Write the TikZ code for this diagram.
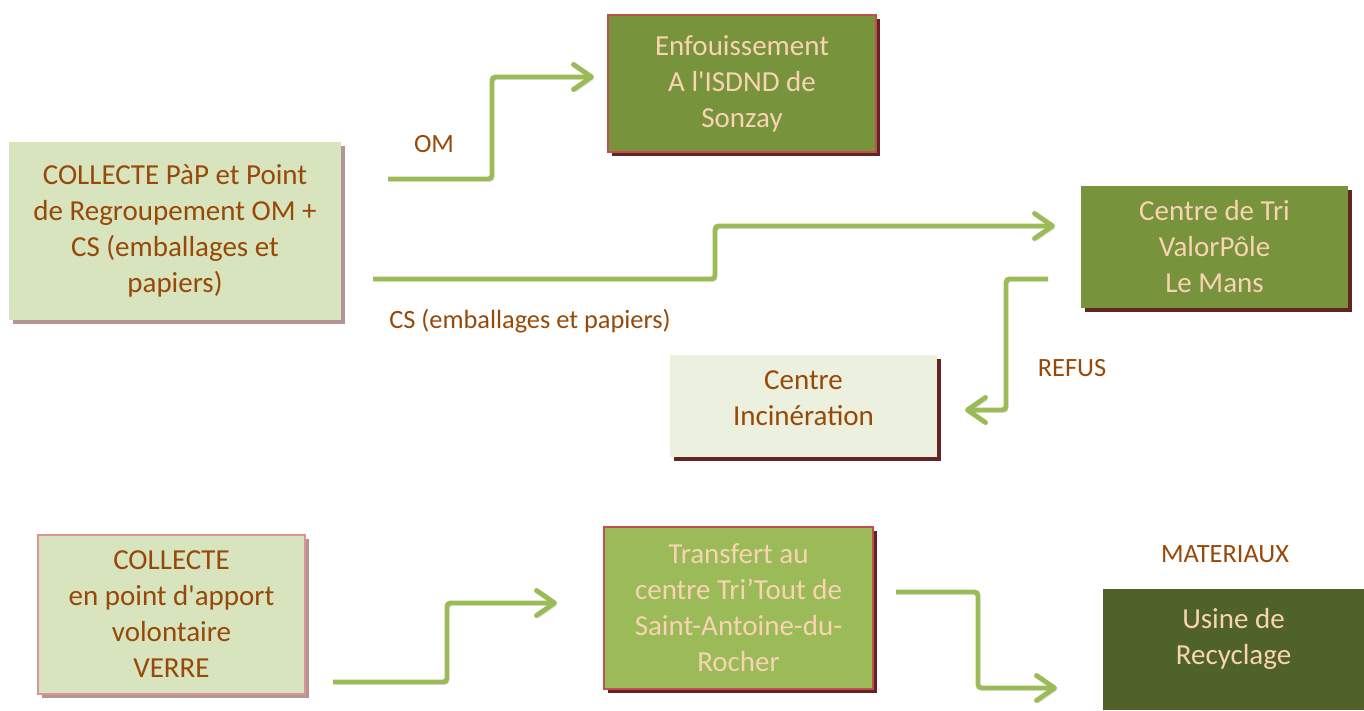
\documentclass[tikz,border=0pt]{standalone}
\usepackage{fontspec}
\setmainfont{Carlito}
\usetikzlibrary{arrows.meta,shadows}

\definecolor{txtbrown}{HTML}{984807}
\definecolor{txtpeach}{HTML}{FAD3B2}
\definecolor{palegreen}{HTML}{D7E4BD}
\definecolor{palergreen}{HTML}{EBF1DE}
\definecolor{midgreen}{HTML}{77933C}
\definecolor{lightgreen}{HTML}{9BBB59}
\definecolor{deepgreen}{HTML}{4F6228}
\definecolor{redline}{HTML}{C0504D}
\definecolor{pinkline}{HTML}{D99694}
\definecolor{darkred}{HTML}{632523}
\definecolor{mauve}{HTML}{B39595}

\tikzset{
  box/.style={rectangle, align=center, inner sep=0pt,
    font=\fontsize{16.5}{20.5}\selectfont},
  darkshade/.style={drop shadow={shadow xshift=0.08cm, shadow yshift=-0.08cm,
    fill=darkred, opacity=1}},
  paleshade/.style={drop shadow={shadow xshift=0.08cm, shadow yshift=-0.08cm,
    fill=mauve, opacity=1}},
  flow/.style={draw=lightgreen, line width=2.8pt, rounded corners=2pt,
    -{Straight Barb[length=0.36cm, width=0.5cm, round]},
    preaction={draw=black, opacity=0.12,
      transform canvas={shift={(1pt,-1.5pt)}}}},
  tag/.style={text=txtbrown, font=\fontsize{15}{18}\selectfont}
}

\begin{document}
\begin{tikzpicture}[x=0.02cm, y=-0.02cm]

\useasboundingbox (0,0) rectangle (1364,710);

% Boxes
\node [box, paleshade, fill=palegreen, text=txtbrown,
  minimum width=6.64cm, minimum height=3.56cm]
  (collecte) at (175,231)
  {COLLECTE PàP et Point\\de Regroupement OM +\\CS (emballages et\\papiers)};
\node [box, darkshade, fill=midgreen, draw=redline, line width=1.4pt, text=txtpeach,
  minimum width=5.36cm, minimum height=2.74cm]
  (enfouis) at (742,83.5)
  {Enfouissement\\A l\textquotesingle ISDND de\\Sonzay};
\node [box, darkshade, fill=midgreen, text=txtpeach,
  minimum width=5.34cm, minimum height=2.44cm]
  (tri) at (1214.5,247)
  {Centre de Tri\\ValorPôle\\Le Mans};
\node [box, darkshade, fill=palergreen, text=txtbrown,
  minimum width=5.34cm, minimum height=2.04cm]
  (incin) at (803.5,406)
  {Centre\\Incinération\\[-12pt]\mbox{}};
\node [box, paleshade, fill=palegreen, draw=pinkline, line width=1.2pt, text=txtbrown,
  minimum width=5.34cm, minimum height=3.18cm]
  (verre) at (171.5,614.5)
  {COLLECTE\\en point d\textquotesingle apport\\volontaire\\VERRE};
\node [box, darkshade, fill=lightgreen, draw=redline, line width=1.4pt, text=txtpeach,
  minimum width=5.38cm, minimum height=3.24cm]
  (transfert) at (738.5,608)
  {Transfert au\\centre Tri’Tout de\\Saint-Antoine-du-\\Rocher};
\node [box, fill=deepgreen, text=txtpeach,
  minimum width=5.22cm, minimum height=2.42cm]
  (usine) at (1233.5,649.5)
  {Usine de\\Recyclage\\[-5.5pt]\mbox{}};

% Labels
\node [tag] (omlabel) at (434,144) {OM};
\node [tag] (cslabel) at (530,321) {CS (emballages et papiers)};
\node [tag] (refuslabel) at (1072,368) {REFUS};
\node [tag] (matlabel) at (1225,554) {MATERIAUX};

% Arrow ends
\coordinate (omA) at (388,179);
\coordinate (omK) at (492,77);
\coordinate (omB) at (594,77);
\coordinate (csA) at (373,279);
\coordinate (csK) at (715,226);
\coordinate (csB) at (1055,226);
\coordinate (refA) at (1048,279);
\coordinate (refK) at (1006,410);
\coordinate (refB) at (965,410);
\coordinate (vA) at (333,682);
\coordinate (vK) at (447,603);
\coordinate (vB) at (557,603);
\coordinate (mA) at (896,592);
\coordinate (mK) at (978,688);
\coordinate (mB) at (1057,688);

% Arrows
\draw [flow] (omA) -| (omK) -- (omB);
\draw [flow] (csA) -| (csK) -- (csB);
\draw [flow] (refA) -| (refK) -- (refB);
\draw [flow] (vA) -| (vK) -- (vB);
\draw [flow] (mA) -| (mK) -- (mB);

\end{tikzpicture}
\end{document}
